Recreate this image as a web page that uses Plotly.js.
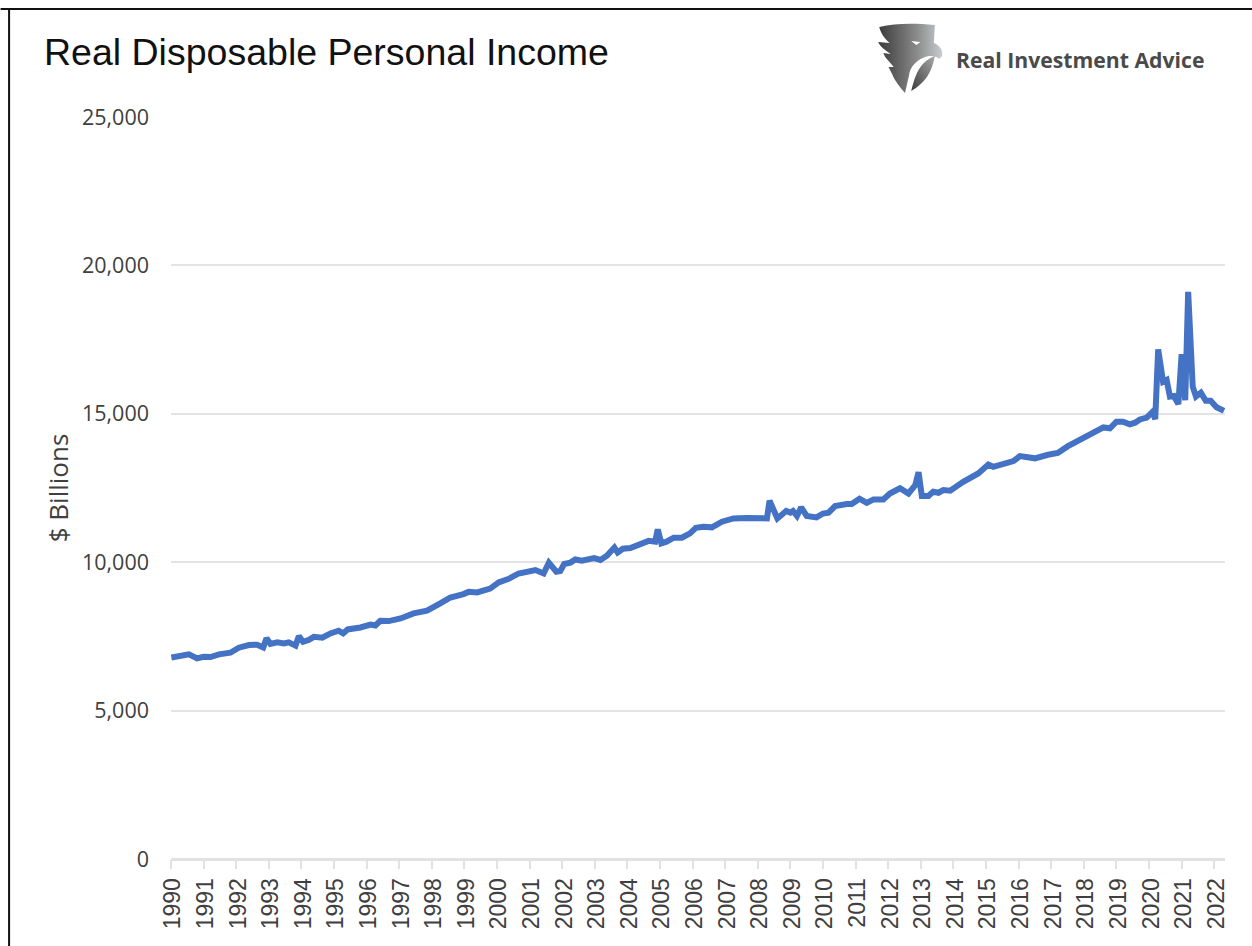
<!DOCTYPE html>
<html><head><meta charset="utf-8">
<script src="https://cdn.plot.ly/plotly-3.0.0.min.js"></script>
<style>html,body{margin:0;padding:0;background:#fff;overflow:hidden}#c{width:1252px;height:946px}</style>
</head><body><div id="c"></div>
<script>
var years=[1990.01,1990.29,1990.55,1990.8,1991,1991.21,1991.47,1991.82,1992.08,1992.39,1992.64,1992.83,1992.93,1993.05,1993.26,1993.46,1993.61,1993.82,1993.92,1994.05,1994.22,1994.38,1994.64,1994.89,1995.14,1995.28,1995.42,1995.81,1996.12,1996.27,1996.42,1996.68,1997.04,1997.44,1997.85,
1998.26,1998.57,1998.97,1999.13,1999.39,1999.79,2000.05,2000.36,2000.66,2000.97,2001.18,2001.43,2001.59,2001.82,2001.94,2002.06,2002.25,2002.4,2002.6,2002.98,2003.17,2003.37,2003.6,2003.7,2003.86,2004.09,2004.39,2004.65,2004.85,2004.93,2005.04,2005.2,2005.42,2005.67,2005.92,2006.1,2006.33,2006.59,2006.9,2007.25,2007.66,2008.17,2008.28,2008.36,2008.6,2008.87,2009,2009.08,2009.2,2009.33,2009.5,2009.8,2010,2010.17,2010.37,2010.73,2010.88,2011.12,2011.34,2011.55,2011.85,2012.05,2012.36,2012.62,2012.83,2012.93,2013.03,2013.23,2013.38,2013.54,2013.69,2013.9,2014.3,2014.76,2015.07,2015.22,2015.63,2015.84,2016.04,2016.5,2016.9,2017.2,2017.5,2017.88,2018.19,2018.6,2018.8,2019,2019.2,2019.41,2019.57,2019.72,2019.93,2020.11,2020.19,2020.28,2020.43,2020.54,2020.64,2020.76,2020.9,2021,2021.11,2021.2,2021.34,2021.44,2021.59,2021.74,2021.89,2022.07,2022.3];
var income=[6790,6860,6895,6760,6815,6805,6895,6950,7120,7210,7220,7130,7435,7245,7300,7265,7300,7190,7510,7320,7375,7485,7455,7600,7690,7600,7735,7800,7900,7870,8025,8015,8105,8275,8365,
8610,8810,8925,9000,8980,9110,9320,9440,9620,9680,9735,9620,9985,9680,9700,9940,9985,10090,10050,10140,10075,10220,10495,10330,10455,10480,10635,10720,10690,11105,10635,10690,10825,10825,10970,11160,11195,11175,11365,11475,11490,11510,11475,12070,11475,11725,11670,11725,11560,11845,11560,11510,11640,11670,11890,11960,11960,12140,12000,12115,12115,12315,12490,12315,12600,13030,12230,12230,12375,12340,12430,12410,12710,12990,13290,13215,13360,13405,13575,13500,13620,13680,13900,14117,14340,14540,14510,14735,14735,14645,14700,14810,14870,15070,14820,17170,16080,16140,15580,15600,15330,17010,15460,19110,15910,15580,15710,15440,15440,15220,15100];
var yTicks=[0,5000,10000,15000,20000,25000];
var yLabels=['0','5,000','10,000','15,000','20,000','25,000'];
var tickLabels=['1990','1991','1992','1993','1994','1995','1996','1997','1998','1999','2000','2001','2002','2003','2004','2005','2006','2007','2008','2009','2010','2011','2012','2013','2014','2015','2016','2017','2018','2019','2020','2021','2022'];
var tickYears=tickLabels.map(Number);
var eagle='<svg xmlns="http://www.w3.org/2000/svg" viewBox="0 0 64 72"><defs><linearGradient id="g" x1="0" x2="1" y1="0" y2="0"><stop offset="0" stop-color="#3a3a3a"/><stop offset="0.6" stop-color="#8a8a8a"/><stop offset="1" stop-color="#c8ccd0"/></linearGradient><linearGradient id="h" x1="0" x2="1" y1="1" y2="0"><stop offset="0" stop-color="#3c3c3c"/><stop offset="1" stop-color="#a8a8a8"/></linearGradient></defs><path fill="url(#g)" d="M2 4 C18 0 36 0 56 2 L55 20 C60 22 64 26 63 33 L60 36 C58 33 53 33 50 33 C38 36 32 44 31 52 L27 70 C22 64 17 58 14 50 L11 44 L16 44 C12 38 8 36 6 30 L13 31 C8 27 3 24 1 19 L12 20 C8 16 4 12 2 4 Z"/><path fill="#fff" d="M33 18 L42 19 L38 22 Z"/><path fill="url(#h)" d="M56 33 C44 38 38 46 33 68 C46 60 53 50 56 33 Z"/></svg>';
var W=1054.5,H=742,L=170.5,T=117;
var layout={
 width:1252,height:946,paper_bgcolor:'#fff',plot_bgcolor:'#fff',showlegend:false,
 margin:{l:L,r:1252-L-W,t:T,b:946-T-H,autoexpand:false},
 font:{family:'"Liberation Sans",Arial,sans-serif',color:'#404040'},
 xaxis:{type:'linear',range:[1990,2022.33],tickmode:'array',tickvals:tickYears,ticktext:tickLabels,tickangle:-90,ticklabelshift:2,
  tickfont:{family:'"Liberation Sans",Arial,sans-serif',size:23,color:'#404040'},ticks:'outside',ticklen:9,tickwidth:2,tickcolor:'#e2e2e2',
  showgrid:false,showline:false,zeroline:false},
 yaxis:{range:[0,25000],tickmode:'array',tickvals:yTicks,ticktext:yLabels,
  tickfont:{family:'"Open Sans",sans-serif',size:21.5,color:'#404040'},ticks:'',ticklabelstandoff:21,
  showgrid:true,gridcolor:'#e4e4e4',gridwidth:2,zeroline:true,zerolinecolor:'#e2e2e2',zerolinewidth:3,showline:false,
  title:{text:'$ Billions',font:{family:'"Open Sans",sans-serif',size:26,color:'#404040'},standoff:5}},
 annotations:[
  {xref:'paper',yref:'paper',x:(44-L)/W,y:1+(T-52)/H,xanchor:'left',yanchor:'middle',showarrow:false,align:'left',xshift:-3,
   text:'Real Disposable Personal Income',font:{family:'"Liberation Sans",Arial,sans-serif',size:37.5,color:'#111'}},
  {xref:'paper',yref:'paper',x:(954-L)/W,y:1+(T-60)/H,xanchor:'left',yanchor:'middle',showarrow:false,
   text:'<b>Real Investment Advice</b>',font:{family:'"Open Sans",sans-serif',size:21.2,color:'#4a4a4a'}}
 ],
 images:[{source:'data:image/svg+xml;utf8,'+encodeURIComponent(eagle),xref:'paper',yref:'paper',x:(877-L)/W,y:1+(T-23)/H,sizex:66/W,sizey:72/H,sizing:'stretch',xanchor:'left',yanchor:'top',layer:'above'}],
 shapes:[
  {type:'line',xref:'paper',yref:'paper',x0:-L/W,x1:(1252-L)/W,y0:1+(T-9)/H,y1:1+(T-9)/H,line:{color:'#111',width:2}},
  {type:'line',xref:'paper',yref:'paper',x0:(8.5-L)/W,x1:(8.5-L)/W,y0:1+(T-9)/H,y1:(T+H-946)/H,line:{color:'#111',width:2}}
 ]
};
var data=[{type:'scatter',mode:'lines',x:years,y:income,line:{color:'#4472C4',width:6,shape:'linear'},cliponaxis:false,hoverinfo:'skip'}];
Plotly.newPlot('c',data,layout,{displayModeBar:false,staticPlot:true});
</script></body></html>
